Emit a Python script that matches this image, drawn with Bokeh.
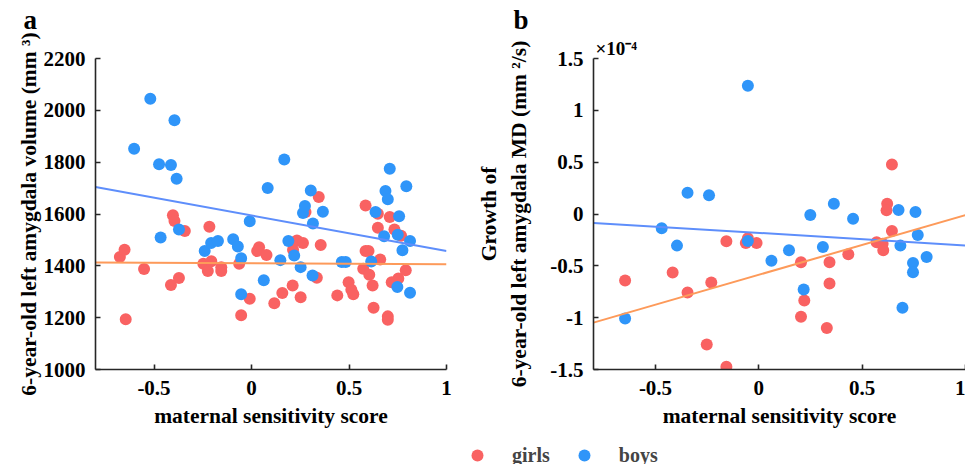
import math
from bokeh.plotting import figure
from bokeh.layouts import column, row
from bokeh.models import (FixedTicker, CustomJSTickFormatter, Legend, LegendItem,
                          ColumnDataSource, Title, LinearAxis)
from bokeh.embed import file_html
from bokeh.resources import INLINE

# ---------------- data ----------------
# Panel a: 6-year-old left amygdala volume (mm^3) vs maternal sensitivity score
girls_a_x = [-0.675, -0.651, -0.645, -0.551, -0.413, -0.372, -0.403, -0.395, -0.342, -0.216,
             -0.247, -0.224, -0.206, -0.155, -0.155, -0.063, -0.053, -0.009, 0.039, 0.029,
             0.077, 0.117, 0.158, 0.211, 0.213, 0.233, 0.264, 0.277, 0.252, 0.345,
             0.355, 0.335, 0.440, 0.498, 0.512, 0.522, 0.585, 0.585, 0.600, 0.573,
             0.604, 0.621, 0.626, 0.648, 0.648, 0.660, 0.699, 0.699, 0.709, 0.733,
             0.753, 0.719, 0.767, 0.791]
girls_a_y = [1434, 1462, 1194, 1388, 1326, 1353, 1595, 1573, 1534, 1551,
             1408, 1380, 1418, 1395, 1380, 1408, 1209, 1273, 1472, 1457,
             1442, 1256, 1295, 1324, 1462, 1498, 1488, 1608, 1279, 1666,
             1480, 1354, 1286, 1337, 1308, 1290, 1633, 1457, 1457, 1389,
             1366, 1324, 1238, 1601, 1547, 1424, 1205, 1192, 1588, 1540,
             1351, 1337, 1516, 1383]
boys_a_x = [-0.519, -0.602, -0.395, -0.474, -0.413, -0.384, -0.466, -0.372, -0.240, -0.207,
            -0.172, -0.094, -0.070, -0.053, -0.053, -0.009, 0.083, 0.063, 0.168, 0.148,
            0.189, 0.219, 0.252, 0.264, 0.274, 0.304, 0.315, 0.313, 0.366, 0.463,
            0.483, 0.614, 0.636, 0.680, 0.687, 0.699, 0.709, 0.757, 0.750, 0.774,
            0.748, 0.794, 0.813, 0.813]
boys_a_y = [2045, 1852, 1962, 1792, 1789, 1736, 1509, 1540, 1457, 1488,
            1496, 1503, 1475, 1429, 1290, 1572, 1700, 1344, 1810, 1422,
            1496, 1440, 1395, 1604, 1631, 1691, 1563, 1363, 1609, 1415,
            1415, 1417, 1608, 1514, 1689, 1657, 1775, 1591, 1520, 1460,
            1318, 1707, 1496, 1296]

# Panel b: growth of 6-year-old left amygdala MD (x 1e-4 mm^2/s)
girls_b_x = [-0.647, -0.417, -0.345, -0.230, -0.252, -0.157, -0.157, -0.063, -0.053, -0.011,
             0.204, 0.204, 0.220, 0.329, 0.342, 0.342, 0.433, 0.570, 0.599, 0.602,
             0.621, 0.618, 0.644, 0.644]
girls_b_y = [-0.642, -0.565, -0.757, -0.661, -1.258, -0.263, -1.473, -0.279, -0.234, -0.279,
             -0.465, -0.991, -0.834, -1.100, -0.465, -0.671, -0.388, -0.273, -0.286, -0.350,
             0.099, 0.035, -0.164, 0.478]
boys_b_x = [-0.053, -0.345, -0.241, -0.470, -0.396, -0.647, -0.053, 0.061, 0.146, 0.217,
            0.249, 0.310, 0.363, 0.456, 0.676, 0.685, 0.695, 0.758, 0.769, 0.746,
            0.746, 0.812]
boys_b_y = [1.238, 0.205, 0.180, -0.138, -0.305, -1.007, -0.260, -0.452, -0.350, -0.728,
            -0.010, -0.318, 0.099, -0.045, 0.038, -0.305, -0.905, 0.019, -0.202, -0.472,
            -0.561, -0.414]

# fitted lines (endpoints at x-axis limits)
fit_x = [-0.8, 1.0]
girls_fit_a = [1413, 1406]
boys_fit_a = [1704, 1457]
girls_fit_b = [-1.048, -0.010]
boys_fit_b = [-0.086, -0.303]

x_ticks = [-0.5, 0, 0.5, 1]
ya_ticks = [1000, 1200, 1400, 1600, 1800, 2000, 2200]
yb_ticks = [-1.5, -1, -0.5, 0, 0.5, 1, 1.5]

# ---------------- style ----------------
RED = "#F96262"
BLUE = "#2F95F9"
LRED = "#FD9A5A"
LBLUE = "#5E8EFB"
FONT = "Liberation Serif"
AXC = "#262626"
TICK_FS = "21px"
LAB_FS = "21.5px"

fmt = CustomJSTickFormatter(code="return String(Math.round(tick*10)/10);")


def style(p, ylabel, ystand):
    p.grid.visible = False
    p.outline_line_color = None
    p.background_fill_color = "white"
    p.border_fill_color = "white"
    for ax in (p.xaxis[0], p.yaxis[0]):
        ax.axis_line_color = AXC
        ax.axis_line_width = 1.6
        ax.major_tick_line_color = AXC
        ax.major_tick_line_width = 1.6
        ax.major_tick_in = 5
        ax.major_tick_out = 0
        ax.minor_tick_line_color = None
        ax.major_label_text_font = FONT
        ax.major_label_text_font_style = "bold"
        ax.major_label_text_font_size = TICK_FS
        ax.major_label_text_color = "black"
        ax.axis_label_text_font = FONT
        ax.axis_label_text_font_style = "bold"
        ax.axis_label_text_font_size = LAB_FS
        ax.axis_label_text_color = "black"
        ax.major_label_standoff = 10
    p.xaxis[0].major_label_standoff = 11
    p.xaxis[0].axis_label = "maternal sensitivity score"
    p.xaxis[0].axis_label_standoff = 6
    p.xaxis[0].ticker = FixedTicker(ticks=x_ticks)
    p.xaxis[0].formatter = fmt
    p.yaxis[0].axis_label = ylabel
    p.yaxis[0].axis_label_standoff = ystand


def title(text, size, offset, standoff):
    return Title(text=text, align="left", offset=offset, standoff=standoff,
                 text_font=FONT, text_font_style="bold", text_font_size=size,
                 text_color="black")


H = 438
WA = 470
WB = 965 - WA

pa = figure(width=WA, height=H, x_range=(-0.8, 1.0), y_range=(1000, 2200),
            min_border_left=95, min_border_right=WA - 446, min_border_top=58,
            min_border_bottom=H - 369,
            output_backend="svg", toolbar_location=None, title=None)
style(pa, "6-year-old left amygdala volume (mm \u00b3)", 0)
pa.yaxis[0].ticker = FixedTicker(ticks=ya_ticks)
pa.add_layout(title(" ", "19px", 0, 0), "above")
pa.add_layout(title("a", "27px", -72, 2), "above")

pa.scatter(girls_a_x, girls_a_y, size=12, color=RED, line_color=None)
pa.scatter(boys_a_x, boys_a_y, size=12, color=BLUE, line_color=None)
pa.line(fit_x, boys_fit_a, line_color=LBLUE, line_width=2)
pa.line(fit_x, girls_fit_a, line_color=LRED, line_width=2)

pb = figure(width=WB, height=H, x_range=(-0.8, 1.0), y_range=(-1.5, 1.5),
            min_border_left=593 - WA, min_border_right=0, min_border_top=57,
            min_border_bottom=H - 369,
            output_backend="svg", toolbar_location=None, title=None)
style(pb, "6-year-old left amygdala MD (mm \u00b2/s)", 16)
pb.yaxis[0].ticker = FixedTicker(ticks=yb_ticks)
pb.yaxis[0].formatter = fmt
pb.add_layout(title("\u00d710\u207b\u2074", "19px", 2, 0), "above")
pb.add_layout(title("b", "27px", -80, 2), "above")

extra = LinearAxis(axis_label="Growth of", ticker=FixedTicker(ticks=[]),
                   axis_line_color=None, major_tick_line_color=None, minor_tick_line_color=None,
                   axis_label_text_font=FONT, axis_label_text_font_style="bold",
                   axis_label_text_font_size=LAB_FS, axis_label_text_color="black",
                   axis_label_standoff=4, major_label_standoff=0)
pb.add_layout(extra, "left")

pb.scatter(girls_b_x, girls_b_y, size=12, color=RED, line_color=None)
pb.scatter(boys_b_x, boys_b_y, size=12, color=BLUE, line_color=None)
pb.line(fit_x, boys_fit_b, line_color=LBLUE, line_width=2)
pb.line(fit_x, girls_fit_b, line_color=LRED, line_width=2)

# legend strip
pl = figure(width=965, height=464 - H, x_range=(0, 1), y_range=(0, 1),
            min_border=0, output_backend="svg", toolbar_location=None,
            x_axis_type=None, y_axis_type=None)
pl.grid.visible = False
pl.outline_line_color = None
src = ColumnDataSource(data=dict(x=[float("nan")], y=[float("nan")]))
rg = pl.scatter("x", "y", source=src, size=12, color=RED, line_color=None)
rb = pl.scatter("x", "y", source=src, size=12, color=BLUE, line_color=None)
leg = Legend(items=[LegendItem(label="girls", renderers=[rg]), LegendItem(label="boys", renderers=[rb])],
             orientation="horizontal", location=(462, -6), glyph_width=30, glyph_height=30,
             label_standoff=20, spacing=19, padding=0, margin=0, border_line_color=None,
             background_fill_alpha=0, label_text_font=FONT, label_text_font_style="bold",
             label_text_font_size="20px", label_height=30)
pl.add_layout(leg)

layout = column(row(pa, pb), pl)
open("out.html", "w").write(file_html(layout, INLINE))
